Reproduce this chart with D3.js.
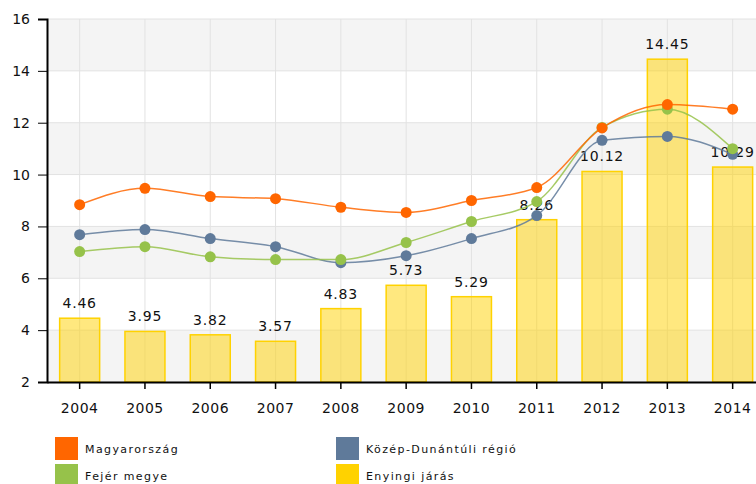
<!DOCTYPE html>
<html>
<head>
<meta charset="utf-8">
<script src="https://cdn.jsdelivr.net/npm/d3@7"></script>
<style>
  body { margin: 0; background: #fff; }
  text { font-family: "DejaVu Sans", Verdana, sans-serif; }
</style>
</head>
<body>
<svg id="chart"></svg>
<script>
const years = ['2004', '2005', '2006', '2007', '2008', '2009', '2010', '2011', '2012', '2013', '2014'];
const enyingi = [4.46, 3.95, 3.82, 3.57, 4.83, 5.73, 5.29, 8.26, 10.12, 14.45, 10.29];
const magyarorszag = [8.84, 9.47, 9.15, 9.07, 8.74, 8.54, 9.0, 9.5, 11.8, 12.7, 12.52];
const kozepDunantul = [7.68, 7.88, 7.53, 7.22, 6.6, 6.87, 7.53, 8.42, 11.32, 11.47, 10.78];
const fejer = [7.03, 7.22, 6.83, 6.72, 6.72, 7.38, 8.19, 8.96, 11.82, 12.52, 11.0];
const yTicks = [2, 4, 6, 8, 10, 12, 14, 16];

const width = 756, height = 484;
const margin = {top: 19, bottom: 102, left: 47};

const x = d3.scaleBand()
    .domain(years)
    .range([margin.left, margin.left + 65.3 * years.length]);

const y = d3.scaleLinear()
    .domain([2, 16])
    .range([height - margin.bottom, margin.top]);

const svg = d3.select('#chart')
    .attr('width', width)
    .attr('height', height);

const xRight = x.range()[1];

// alternating bands
d3.pairs(yTicks).forEach(([a, b], i) => {
    svg.append('rect')
        .attr('x', margin.left)
        .attr('y', y(b))
        .attr('width', xRight - margin.left)
        .attr('height', y(a) - y(b))
        .attr('fill', i % 2 === 0 ? '#f4f4f4' : '#fff');
});

// grid
svg.append('g').selectAll('line.h')
    .data(yTicks)
    .join('line')
    .attr('x1', margin.left).attr('x2', xRight)
    .attr('y1', d => y(d)).attr('y2', d => y(d))
    .attr('stroke', '#e2e2e2').attr('stroke-width', 1);

svg.append('g').selectAll('line.v')
    .data(years)
    .join('line')
    .attr('x1', d => x(d) + x.bandwidth() / 2).attr('x2', d => x(d) + x.bandwidth() / 2)
    .attr('y1', y(16)).attr('y2', y(2))
    .attr('stroke', '#e2e2e2').attr('stroke-width', 1);

// bars
const barW = 40;
svg.append('g').selectAll('rect')
    .data(enyingi)
    .join('rect')
    .attr('x', (d, i) => x(years[i]) + x.bandwidth() / 2 - barW / 2)
    .attr('y', d => y(d))
    .attr('width', barW)
    .attr('height', d => y(2) - y(d))
    .attr('fill', '#ffd200')
    .attr('fill-opacity', 0.5)
    .attr('stroke', '#ffd200')
    .attr('stroke-width', 1.5);

// bar labels
svg.append('g').selectAll('text')
    .data(enyingi)
    .join('text')
    .attr('x', (d, i) => x(years[i]) + x.bandwidth() / 2)
    .attr('y', d => y(d) - 10)
    .attr('text-anchor', 'middle')
    .attr('font-size', 14)
    .attr('letter-spacing', 0.8)
    .attr('fill', '#111')
    .text(d => d.toFixed(2));

// lines
const series = [
    {name: 'Közép-Dunántúli régió', values: kozepDunantul, color: '#5f7a9a'},
    {name: 'Fejér megye', values: fejer, color: '#96c24a'},
    {name: 'Magyarország', values: magyarorszag, color: '#ff6600'}
];

const line = d3.line()
    .x((d, i) => x(years[i]) + x.bandwidth() / 2)
    .y(d => y(d))
    .curve(d3.curveMonotoneX);

series.forEach(s => {
    svg.append('path')
        .datum(s.values)
        .attr('fill', 'none')
        .attr('stroke', s.color)
        .attr('stroke-opacity', 0.85)
        .attr('stroke-width', 1.5)
        .attr('d', line);
});

series.forEach(s => {
    svg.append('g').selectAll('circle')
        .data(s.values)
        .join('circle')
        .attr('cx', (d, i) => x(years[i]) + x.bandwidth() / 2)
        .attr('cy', d => y(d))
        .attr('r', 5.5)
        .attr('fill', s.color);
});

// axes
const yAxis = svg.append('g')
    .attr('transform', `translate(${margin.left},0)`)
    .call(d3.axisLeft(y).tickValues(yTicks).tickSize(9).tickPadding(8).tickFormat(d3.format('d')));
yAxis.select('.domain').attr('stroke', '#000').attr('stroke-width', 2);
yAxis.selectAll('.tick line').attr('stroke', '#000');
yAxis.selectAll('text').attr('font-size', 14).attr('fill', '#111')
    .style('font-family', '"DejaVu Sans", sans-serif');

const xAxis = svg.append('g')
    .attr('transform', `translate(0,${y(2)})`)
    .call(d3.axisBottom(x).tickSize(7).tickPadding(14).tickSizeOuter(0));
xAxis.select('.domain').attr('stroke', '#000').attr('stroke-width', 2);
xAxis.selectAll('.tick line').attr('stroke', '#000').attr('stroke-width', 1.5);
xAxis.selectAll('text').attr('font-size', 14).attr('letter-spacing', 0.5).attr('fill', '#111')
    .style('font-family', '"DejaVu Sans", sans-serif');

// legend
const legendItems = [
    {name: 'Magyarország', color: '#ff6600', col: 0, row: 0},
    {name: 'Közép-Dunántúli régió', color: '#5f7a9a', col: 1, row: 0},
    {name: 'Fejér megye', color: '#96c24a', col: 0, row: 1},
    {name: 'Enyingi járás', color: '#ffd200', col: 1, row: 1}
];

const legend = svg.append('g').selectAll('g')
    .data(legendItems)
    .join('g')
    .attr('transform', d => `translate(${55 + d.col * 281},${437 + d.row * 27})`);

legend.append('rect')
    .attr('width', 23).attr('height', 23)
    .attr('fill', d => d.color);

legend.append('text')
    .attr('x', 30).attr('y', 16)
    .attr('font-size', 11)
    .attr('letter-spacing', 1.4)
    .attr('fill', '#111')
    .text(d => d.name);
</script>
</body>
</html>
